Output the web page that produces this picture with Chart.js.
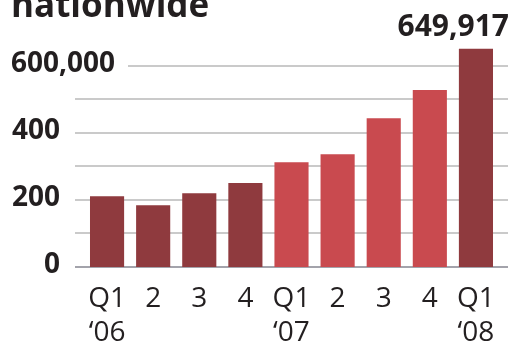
<!DOCTYPE html>
<html>
<head>
<meta charset="utf-8">
<script src="https://cdn.jsdelivr.net/npm/chart.js@4"></script>
<style>
  body { margin: 0; background: #fff; }
  canvas { display: block; }
</style>
</head>
<body>
<canvas id="myChart" width="527" height="343"></canvas>
<script>
// quarters, two-line labels
const quarters = [['Q1', '\u201806'], ['2', ''], ['3', ''], ['4', ''], ['Q1', '\u201807'], ['2', ''], ['3', ''], ['4', ''], ['Q1', '\u201808']];
const values = [211000, 184000, 220000, 250000, 312000, 336000, 443000, 527000, 649917];
const yTicks = [0, 200000, 400000, 600000];
const yTickLabels = ['0', '200', '400', '600,000'];
const gridValues = [0, 100000, 200000, 300000, 400000, 500000, 600000];
const topLabel = '649,917';
const title = 'nationwide';

const dark = '#8f3a3e';
const light = '#c94a4f';
const barColors = quarters.map((q, i) => (i >= 4 && i <= 7) ? light : dark);

const font = '"Open Sans", "Noto Sans", sans-serif';
const ink = '#231f20';

// draws the grid, axis labels and title
const decor = {
    id: 'decor',
    beforeDatasetsDraw(chart) {
        const ctx = chart.ctx;
        const y = chart.scales.y;
        ctx.save();
        gridValues.forEach(v => {
            const py = Math.round(y.getPixelForValue(v));
            ctx.beginPath();
            ctx.strokeStyle = v === 0 ? '#a3a3ab' : '#b8b8b8';
            ctx.lineWidth = v === 0 ? 2 : 1.5;
            ctx.moveTo(v === 600000 ? 128 : 75, py);
            ctx.lineTo(508, py);
            ctx.stroke();
        });
        ctx.restore();
    },
    afterDraw(chart) {
        const ctx = chart.ctx;
        const x = chart.scales.x;
        const y = chart.scales.y;
        ctx.save();
        ctx.fillStyle = ink;

        // y labels
        ctx.font = 'bold 28px ' + font;
        ctx.textBaseline = 'middle';
        yTicks.forEach((v, i) => {
            const py = y.getPixelForValue(v) - 2;
            if (v === 600000) {
                ctx.textAlign = 'left';
                ctx.fillText(yTickLabels[i], 11, py);
            } else {
                ctx.textAlign = 'right';
                ctx.fillText(yTickLabels[i], 60, py);
            }
        });

        // x labels
        ctx.font = '28px ' + font;
        ctx.textAlign = 'center';
        ctx.textBaseline = 'alphabetic';
        quarters.forEach((q, i) => {
            const px = x.getPixelForValue(i);
            ctx.fillText(q[0], px, 307);
            if (q[1]) ctx.fillText(q[1], px, 341);
        });

        // value label on last bar
        ctx.font = 'bold 30px ' + font;
        ctx.textAlign = 'right';
        ctx.fillText(topLabel, 509, 36);

        // title, cut at the top
        ctx.font = 'bold 35px ' + font;
        ctx.textAlign = 'left';
        ctx.fillText(title, 11, 17);
        ctx.restore();
    }
};

new Chart(document.getElementById('myChart'), {
    type: 'bar',
    data: {
        labels: quarters.map(q => q.join(' ')),
        datasets: [{
            data: values,
            backgroundColor: barColors,
            borderWidth: 0,
            barPercentage: 0.74,
            categoryPercentage: 1
        }]
    },
    options: {
        responsive: false,
        animation: false,
        layout: { padding: { left: 84, right: 28, top: 32, bottom: 76 } },
        scales: {
            x: { display: false },
            y: { display: false, min: 0, max: 700000 }
        },
        plugins: {
            legend: { display: false },
            tooltip: { enabled: false }
        }
    },
    plugins: [decor]
});
</script>
</body>
</html>
